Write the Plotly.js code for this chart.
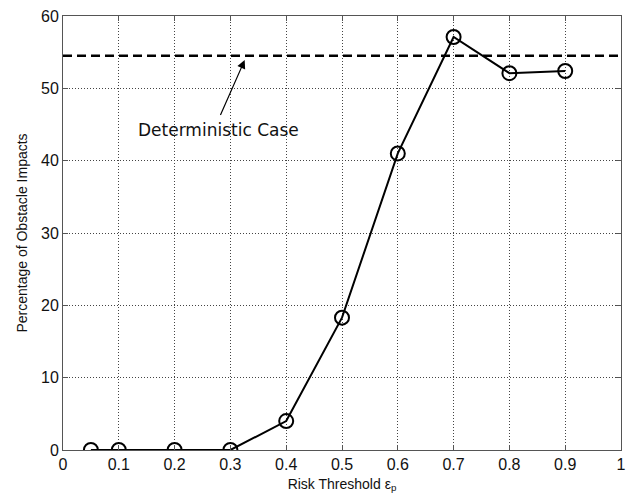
<!DOCTYPE html>
<html><head><meta charset="utf-8">
<script src="https://cdn.plot.ly/plotly-3.0.1.min.js"></script>
<style>body{margin:0;background:#fff}</style>
</head><body>
<div id="chart" style="width:628px;height:500px"></div>
<script>
const riskThreshold = [0.05, 0.1, 0.2, 0.3, 0.4, 0.5, 0.6, 0.7, 0.8, 0.9];
const impactPct = [0, 0, 0, 0, 4.0, 18.3, 41.0, 57.1, 52.1, 52.4];
const deterministicPct = 54.5;
const xTicks = [0, 0.1, 0.2, 0.3, 0.4, 0.5, 0.6, 0.7, 0.8, 0.9, 1];
const xTickLabels = ['0', '0.1', '0.2', '0.3', '0.4', '0.5', '0.6', '0.7', '0.8', '0.9', '1'];
const yTicks = [0, 10, 20, 30, 40, 50, 60];

const traces = [
  {x: [0, 1], y: [deterministicPct, deterministicPct], mode: 'lines',
   line: {color: '#000', width: 2.5, dash: '9px,5px'}, hoverinfo: 'skip'},
  {x: riskThreshold, y: impactPct, mode: 'lines+markers',
   line: {color: '#000', width: 2},
   marker: {symbol: 'circle-open', size: 14, color: '#000', line: {width: 2, color: '#000'}}}
];

const axisCommon = {
  showline: true, mirror: 'ticks', linecolor: '#555', linewidth: 1,
  ticks: 'inside', ticklen: 5, tickcolor: '#555',
  showgrid: true, gridcolor: '#444', griddash: '1px,2px', gridwidth: 1,
  zeroline: false, tickfont: {family: 'Liberation Sans, Arial', size: 16, color: '#111'}
};

const layout = {
  width: 628, height: 500,
  margin: {l: 63, r: 7, t: 16, b: 50},
  paper_bgcolor: '#fff', plot_bgcolor: '#fff',
  showlegend: false,
  xaxis: Object.assign({}, axisCommon, {
    range: [0, 1], tickvals: xTicks, ticktext: xTickLabels,
    title: {text: 'Risk Threshold ε<sub>p</sub>', font: {family: 'Liberation Sans, Arial', size: 14, color: '#111'}, standoff: 6}
  }),
  yaxis: Object.assign({}, axisCommon, {
    range: [0, 60], tickvals: yTicks,
    title: {text: 'Percentage of Obstacle Impacts', font: {family: 'Liberation Sans, Arial', size: 14, color: '#111'}, standoff: 10}
  }),
  annotations: [
    {x: 0.3256, y: 53.9, xref: 'x', yref: 'y', ax: 0.281, ay: 46.1, axref: 'x', ayref: 'y',
     showarrow: true, arrowhead: 2, arrowsize: 1.4, arrowwidth: 1.2, arrowcolor: '#000', text: ''},
    {x: 0.279, y: 44.2, xref: 'x', yref: 'y', showarrow: false, text: 'Deterministic Case',
     font: {family: 'DejaVu Sans', size: 17, color: '#111'}}
  ]
};

Plotly.newPlot('chart', traces, layout, {displayModeBar: false, staticPlot: true});
</script>
</body></html>
